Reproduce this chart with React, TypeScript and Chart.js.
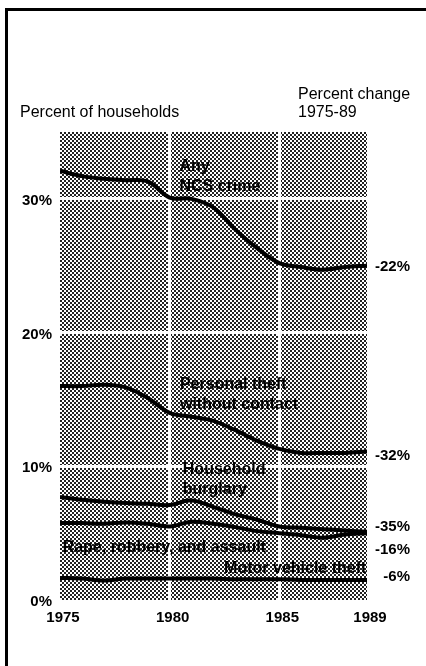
import React, { useEffect, useRef } from "react";
import { Chart, registerables } from "chart.js";

Chart.register(...registerables);

// ---- Data ----
const years = [1975, 1976, 1977, 1978, 1979, 1980, 1981, 1982, 1983, 1984, 1985, 1986, 1987, 1988, 1989];
const anyCrime = [32.1, 31.7, 31.5, 31.4, 31.3, 30.1, 30.0, 29.35, 27.7, 26.3, 25.2, 24.9, 24.7, 24.9, 25.0];
const personalTheft = [16.0, 16.0, 16.1, 15.9, 15.1, 14.0, 13.7, 13.4, 12.7, 11.9, 11.3, 11.0, 11.0, 11.0, 11.1];
const householdBurglary = [7.7, 7.5, 7.35, 7.25, 7.2, 7.1, 7.45, 6.95, 6.4, 6.0, 5.5, 5.4, 5.3, 5.2, 5.1];
const rapeRobberyAssault = [5.75, 5.75, 5.7, 5.8, 5.7, 5.5, 5.85, 5.7, 5.45, 5.15, 5.0, 4.85, 4.65, 4.9, 5.0];
const motorVehicleTheft = [1.65, 1.6, 1.45, 1.6, 1.6, 1.6, 1.6, 1.6, 1.55, 1.55, 1.55, 1.5, 1.5, 1.5, 1.5];

const xTickYears = [1975, 1980, 1985, 1989];
const yTickValues = [0, 10, 20, 30];
const xGridYears = [1980, 1985];
const yGridValues = [10, 20, 30];

const seriesNames = [
  ["Any", "NCS crime"],
  ["Personal theft", "without contact"],
  ["Household", "burglary"],
  ["Rape, robbery, and assault"],
  ["Motor vehicle theft"],
];
const changeLabels = ["-22%", "-32%", "-35%", "-16%", "-6%"];

// annotation anchors in data units (year, percent)
const nameAnchors = [
  { x: 1980.45, y: 32.4, align: "left" },
  { x: 1980.47, y: 16.1, align: "left" },
  { x: 1980.6, y: 9.75, align: "left" },
  { x: 1975.12, y: 3.9, align: "left" },
  { x: 1988.97, y: 2.32, align: "right" },
];
const changeAnchorValues = [24.9, 10.75, 5.46, 3.74, 1.72];

const FONT = '"Liberation Sans", Arial, Helvetica, sans-serif';

function makePattern(ctx: CanvasRenderingContext2D) {
  const pc = document.createElement("canvas");
  pc.width = 4;
  pc.height = 4;
  const p = pc.getContext("2d")!;
  p.fillStyle = "#ffffff";
  p.fillRect(0, 0, 4, 4);
  p.fillStyle = "#222222";
  p.fillRect(0, 0, 2, 2);
  p.fillRect(2, 2, 2, 2);
  return ctx.createPattern(pc, "repeat");
}

const decorPlugin = {
  id: "decor",
  beforeDraw(chart: any) {
    const { ctx, chartArea } = chart;
    ctx.save();
    ctx.fillStyle = makePattern(ctx) || "#777";
    ctx.fillRect(chartArea.left, chartArea.top, chartArea.right - chartArea.left, chartArea.bottom - chartArea.top);
    ctx.restore();
  },
  afterDatasetsDraw(chart: any) {
    const { ctx, chartArea, scales } = chart;
    const xs = scales.x;
    const ys = scales.y;
    ctx.save();
    ctx.fillStyle = "#000";
    ctx.textBaseline = "middle";
    // series names
    ctx.font = `bold 16px ${FONT}`;
    seriesNames.forEach((lines, i) => {
      const a = nameAnchors[i];
      ctx.textAlign = a.align as CanvasTextAlign;
      const px = xs.getPixelForValue(a.x);
      const py = ys.getPixelForValue(a.y);
      lines.forEach((t, j) => ctx.fillText(t, px, py + j * 20));
    });
    // percent change labels
    ctx.font = `bold 15px ${FONT}`;
    ctx.textAlign = "right";
    changeLabels.forEach((t, i) => {
      ctx.fillText(t, chartArea.right + 43, ys.getPixelForValue(changeAnchorValues[i]));
    });
    // headers
    ctx.font = `16px ${FONT}`;
    ctx.textAlign = "left";
    ctx.fillText("Percent of households", 20, 113);
    ctx.fillText("Percent change", 298, 95);
    ctx.fillText("1975-89", 298, 113);
    ctx.restore();
  },
};

export default function App() {
  const ref = useRef<HTMLCanvasElement | null>(null);

  useEffect(() => {
    if (!ref.current) return;
    const mk = (vals: number[]) => ({
      data: years.map((y, i) => ({ x: y, y: vals[i] })),
      borderColor: "#000",
      borderWidth: 4,
      pointRadius: 0,
      tension: 0.35,
      fill: false,
    });
    const chart = new Chart(ref.current, {
      type: "line",
      data: {
        datasets: [anyCrime, personalTheft, householdBurglary, rapeRobberyAssault, motorVehicleTheft].map(mk),
      },
      plugins: [decorPlugin],
      options: {
        animation: false,
        responsive: false,
        maintainAspectRatio: false,
        layout: { padding: { top: 132, right: 59, left: 0, bottom: 0 } },
        plugins: { legend: { display: false }, tooltip: { enabled: false } },
        scales: {
          x: {
            type: "linear",
            min: 1975,
            max: 1989,
            afterBuildTicks: (s: any) => {
              s.ticks = xTickYears.map((v) => ({ value: v }));
            },
            afterFit: (s: any) => {
              s.height = 66;
            },
            grid: {
              color: (c: any) => (xGridYears.includes(c.tick?.value) ? "#ffffff" : "rgba(0,0,0,0)"),
              lineWidth: 3,
              drawTicks: false,
            },
            border: { display: false },
            ticks: {
              color: "#000",
              font: { family: FONT, size: 15, weight: "bold" },
              padding: 9,
              maxRotation: 0,
              autoSkip: false,
              labelOffset: 3,
              callback: (v: any) => String(v),
            },
          },
          y: {
            type: "linear",
            min: 0,
            max: 35,
            afterBuildTicks: (s: any) => {
              s.ticks = yTickValues.map((v) => ({ value: v }));
            },
            afterFit: (s: any) => {
              s.width = 60;
            },
            grid: {
              color: (c: any) => (yGridValues.includes(c.tick?.value) ? "#ffffff" : "rgba(0,0,0,0)"),
              lineWidth: 3,
              drawTicks: false,
            },
            border: { display: false },
            ticks: {
              color: "#000",
              font: { family: FONT, size: 15, weight: "bold" },
              padding: 8,
              labelOffset: 2,
              callback: (v: any) => `${v}%`,
            },
          },
        },
      },
    } as any);
    return () => chart.destroy();
  }, []);

  return (
    <div style={{ position: "fixed", left: 0, top: 0, width: 426, height: 666, background: "#fff" }}>
      <div
        style={{
          position: "absolute",
          left: 5,
          top: 8,
          right: -10,
          bottom: -10,
          borderTop: "3px solid #000",
          borderLeft: "3px solid #000",
        }}
      />
      <canvas ref={ref} width={426} height={666} style={{ position: "absolute", left: 0, top: 0, width: 426, height: 666 }} />
    </div>
  );
}
